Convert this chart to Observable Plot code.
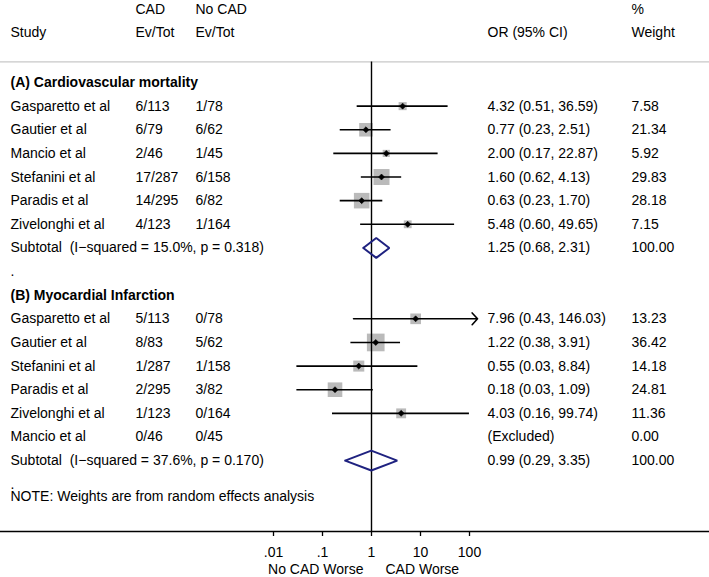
<!DOCTYPE html>
<html>
<head>
<meta charset="utf-8">
<script src="https://cdn.jsdelivr.net/npm/d3@7"></script>
<script src="https://cdn.jsdelivr.net/npm/@observablehq/plot@0.6"></script>
<style>
  body { margin: 0; background: #fff; }
  svg text { white-space: pre; }
</style>
</head>
<body>
<script>
// ---- Panel A: Cardiovascular mortality ----
const headerA = "(A) Cardiovascular mortality";
const studiesA = ["Gasparetto et al", "Gautier et al", "Mancio et al", "Stefanini et al", "Paradis et al", "Zivelonghi et al"];
const cadA = ["6/113", "6/79", "2/46", "17/287", "14/295", "4/123"];
const noCadA = ["1/78", "6/62", "1/45", "6/158", "6/82", "1/164"];
const orA = [4.32, 0.77, 2.00, 1.60, 0.63, 5.48];
const loA = [0.51, 0.23, 0.17, 0.62, 0.23, 0.60];
const hiA = [36.59, 2.51, 22.87, 4.13, 1.70, 49.65];
const weightA = [7.58, 21.34, 5.92, 29.83, 28.18, 7.15];
const subA = {or: 1.25, lo: 0.68, hi: 2.31, i2: 15.0, p: 0.318};

// ---- Panel B: Myocardial Infarction ----
const headerB = "(B) Myocardial Infarction";
const studiesB = ["Gasparetto et al", "Gautier et al", "Stefanini et al", "Paradis et al", "Zivelonghi et al", "Mancio et al"];
const cadB = ["5/113", "8/83", "1/287", "2/295", "1/123", "0/46"];
const noCadB = ["0/78", "5/62", "1/158", "3/82", "0/164", "0/45"];
const orB = [7.96, 1.22, 0.55, 0.18, 4.03, null];
const loB = [0.43, 0.38, 0.03, 0.03, 0.16, null];
const hiB = [146.03, 3.91, 8.84, 1.09, 99.74, null];
const weightB = [13.23, 36.42, 14.18, 24.81, 11.36, 0.00];
const subB = {or: 0.99, lo: 0.29, hi: 3.35, i2: 37.6, p: 0.170};

// ---- Axis ----
const tickValues = [0.01, 0.1, 1, 10, 100];
const tickLabels = [".01", ".1", "1", "10", "100"];
const favourLeft = "No CAD Worse";
const favourRight = "CAD Worse";
const note = "NOTE: Weights are from random effects analysis";

// ---- build tables ----
const f2 = d3.format(".2f");
const studyRows = [];
const textRows = [];
const headerRows = [];
const subRows = [];
function addPanel(k0, panel, header, studies, cad, noCad, or, lo, hi, w, sub) {
  headerRows.push({k: k0, study: header});
  studies.forEach((s, i) => {
    const k = k0 + 1 + i;
    textRows.push({k, study: s, cad: cad[i], nocad: noCad[i],
      ortext: or[i] == null ? "(Excluded)" : `${f2(or[i])} (${f2(lo[i])}, ${f2(hi[i])})`,
      wtext: f2(w[i])});
    if (or[i] != null) studyRows.push({k, or: or[i], lo: lo[i], hi: hi[i], w: w[i]});
  });
  const ks = k0 + studies.length + 1;
  textRows.push({k: ks, study: `Subtotal  (I\u2212squared = ${sub.i2.toFixed(1)}%, p = ${sub.p.toFixed(3)})`,
    ortext: `${f2(sub.or)} (${f2(sub.lo)}, ${f2(sub.hi)})`, wtext: f2(d3.sum(w))});
  textRows.push({k: ks + 1, study: "."});
  subRows.push({panel, k: ks, ...sub});
}
addPanel(0, "A", headerA, studiesA, cadA, noCadA, orA, loA, hiA, weightA, subA);
addPanel(9, "B", headerB, studiesB, cadB, noCadB, orB, loB, hiB, weightB, subB);

const dh = 0.42;
const diamondPts = subRows.flatMap(s => [
  {panel: s.panel, x: s.lo, y: s.k}, {panel: s.panel, x: s.or, y: s.k - dh},
  {panel: s.panel, x: s.hi, y: s.k}, {panel: s.panel, x: s.or, y: s.k + dh},
  {panel: s.panel, x: s.lo, y: s.k}
]);

const headRow1 = -3.09, headRow2 = -2.12, ruleRow = -0.87, axisRow = 19, noteRow = 17.52, favRow = 20.6;
const cols = {study: 10, cad: 135, nocad: 195, or: 487, w: 631};
const ink = "#000";
const T = (arr, row, dx) => Plot.text(arr, {y: arr.map(() => row), text: d => d, frameAnchor: "left", dx, textAnchor: "start", fill: ink});

const chart = Plot.plot({
  width: 709,
  height: 577,
  marginLeft: 0, marginRight: 0, marginTop: 0, marginBottom: 46,
  style: {fontFamily: "'Liberation Sans', Arial, Helvetica, sans-serif", fontSize: "14px", background: "#fff", overflow: "visible"},
  x: {type: "log", domain: [10 ** (-371 / 49), 10 ** (338 / 49)]},
  y: {domain: [-3.47, 19], range: [0, 531], axis: null},
  r: {type: "sqrt", domain: [0, 100], range: [0, 29.3 / Math.sqrt(Math.PI)]},
  marks: [
    Plot.ruleY([ruleRow], {stroke: "#c8c8c8", strokeWidth: 1.2}),
    Plot.dot(studyRows, {x: "or", y: "k", r: "w", symbol: "square", fill: "#bababa", stroke: null}),
    Plot.ruleX([1], {y1: ruleRow, y2: axisRow, stroke: ink, strokeWidth: 1.4}),
    Plot.ruleY(studyRows.filter(d => d.hi <= 100), {y: "k", x1: "lo", x2: "hi", stroke: ink, strokeWidth: 1.6}),
    Plot.arrow(studyRows.filter(d => d.hi > 100), {x1: "lo", x2: "hi", y1: "k", y2: "k", stroke: ink, strokeWidth: 1.6, headLength: 7.5, headAngle: 95}),
    Plot.dot(studyRows, {x: "or", y: "k", r: 2.7, symbol: "diamond2", fill: ink, stroke: ink, strokeWidth: 0.6}),
    Plot.line(diamondPts, {x: "x", y: "y", z: "panel", stroke: "#1f2280", strokeWidth: 2, strokeLinejoin: "miter"}),
    Plot.ruleY([axisRow], {stroke: ink, strokeWidth: 1.3}),
    Plot.axisX({ticks: tickValues, tickFormat: d => tickLabels[tickValues.indexOf(d)], tickSize: 5, tickPadding: 11, strokeWidth: 1.3, fontSize: 14, fill: ink}),
    // header
    T(["CAD"], headRow1, cols.cad),
    T(["No CAD"], headRow1, cols.nocad),
    T(["%"], headRow1, cols.w),
    T(["Study"], headRow2, cols.study),
    T(["Ev/Tot"], headRow2, cols.cad),
    T(["Ev/Tot"], headRow2, cols.nocad),
    T(["OR (95% CI)"], headRow2, cols.or),
    T(["Weight"], headRow2, cols.w),
    // panel headers (bold)
    Plot.text(headerRows, {y: "k", text: "study", frameAnchor: "left", dx: cols.study, textAnchor: "start", fill: ink, fontWeight: "bold"}),
    // body columns
    Plot.text(textRows, {y: "k", text: "study", frameAnchor: "left", dx: cols.study, textAnchor: "start", fill: ink}),
    Plot.text(textRows.filter(d => d.cad), {y: "k", text: "cad", frameAnchor: "left", dx: cols.cad, textAnchor: "start", fill: ink}),
    Plot.text(textRows.filter(d => d.nocad), {y: "k", text: "nocad", frameAnchor: "left", dx: cols.nocad, textAnchor: "start", fill: ink}),
    Plot.text(textRows.filter(d => d.ortext), {y: "k", text: "ortext", frameAnchor: "left", dx: cols.or, textAnchor: "start", fill: ink}),
    Plot.text(textRows.filter(d => d.wtext), {y: "k", text: "wtext", frameAnchor: "left", dx: cols.w, textAnchor: "start", fill: ink}),
    T([note], noteRow, cols.study),
    // favours labels
    Plot.text([favourLeft], {x: [1], y: [favRow], text: d => d, textAnchor: "end", dx: -8, fill: ink}),
    Plot.text([favourRight], {x: [1], y: [favRow], text: d => d, textAnchor: "start", dx: 14, fill: ink})
  ]
});
document.body.appendChild(chart);
</script>
</body>
</html>
